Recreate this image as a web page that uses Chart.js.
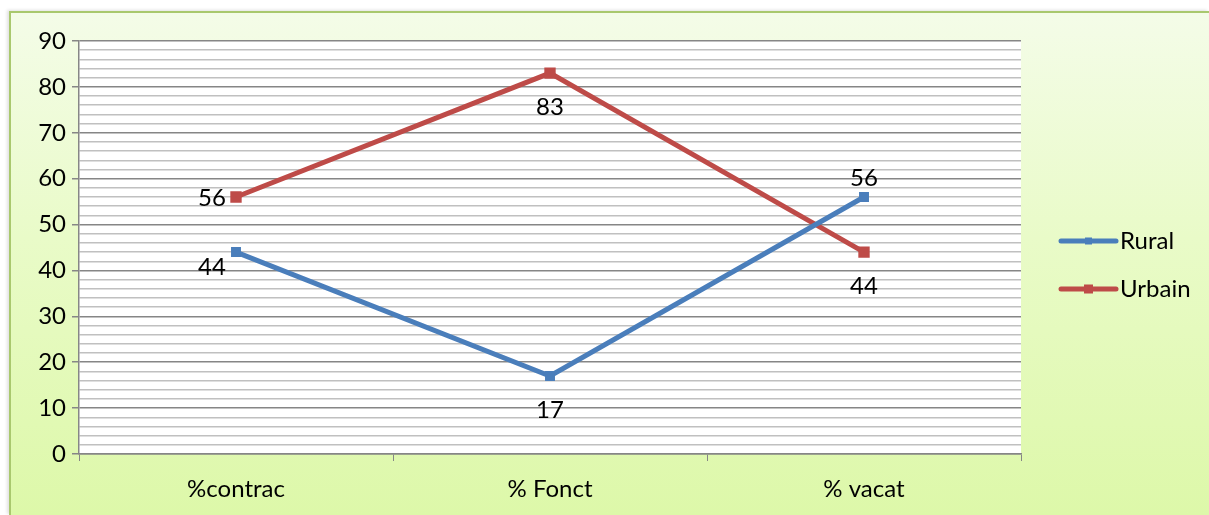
<!DOCTYPE html>
<html>
<head>
<meta charset="utf-8">
<script src="https://cdn.jsdelivr.net/npm/chart.js@4.4.1/dist/chart.umd.min.js"></script>
<style>
  html, body { margin: 0; padding: 0; background: #ffffff; width: 1209px; height: 515px; overflow: hidden; }
  #frame {
    position: absolute; left: 9px; top: 11px; width: 1200px; height: 504px;
    box-sizing: border-box;
    border-left: 2px solid #a9c86e; border-top: 2px solid #a9c86e;
    background: linear-gradient(to bottom, #f4fce8 0%, #e9fbc8 45%, #ddf8a9 100%);
    box-shadow: -2px -1px 3px rgba(0,0,0,0.12);
  }
  #wrap { position: absolute; left: -1px; top: -1px; width: 1199px; height: 503px; }
</style>
</head>
<body>
<div id="frame"><div id="wrap"><canvas id="c" width="1199" height="503"></canvas></div></div>
<script>
// Categories and series values
const categories = ['%contrac', '% Fonct', '% vacat'];
const rural = [44, 17, 56];
const urbain = [56, 83, 44];
const seriesNames = ['Rural', 'Urbain'];

const FONT = "Lato, 'Open Sans', 'DejaVu Sans', sans-serif";
const FONT_SIZE = 24;
const BLUE = '#4a7ebb';
const RED = '#be4b48';

// Where each value label sits relative to its point, per series
const labelPlacement = [
  ['belowLeft', 'below', 'above'],
  ['left', 'below', 'below']
];

const plotBackground = {
  id: 'plotBackground',
  beforeDraw(chart) {
    const { ctx, chartArea: a } = chart;
    ctx.save();
    ctx.fillStyle = '#ffffff';
    ctx.fillRect(a.left, a.top, a.right - a.left, a.bottom - a.top);
    ctx.restore();
  }
};

const valueLabels = {
  id: 'valueLabels',
  afterDatasetsDraw(chart) {
    const { ctx } = chart;
    ctx.save();
    ctx.font = FONT_SIZE + 'px ' + FONT;
    ctx.fillStyle = '#000000';
    chart.data.datasets.forEach((ds, di) => {
      const meta = chart.getDatasetMeta(di);
      meta.data.forEach((pt, i) => {
        const where = labelPlacement[di][i];
        let x = pt.x, y = pt.y;
        ctx.textAlign = 'center';
        ctx.textBaseline = 'middle';
        if (where === 'below') { y += 34; }
        else if (where === 'above') { y -= 19; }
        else if (where === 'left') { x -= 24; y += 1; }
        else if (where === 'belowLeft') { x -= 24; y += 15; }
        ctx.fillText(String(ds.data[i]), x, y);
      });
    });
    ctx.restore();
  }
};

const sideLegend = {
  id: 'sideLegend',
  afterDraw(chart) {
    const { ctx, chartArea: a } = chart;
    const rows = [a.top + 200, a.top + 248];
    ctx.save();
    chart.data.datasets.forEach((ds, di) => {
      const y = rows[di];
      const x0 = a.right + 40, x1 = a.right + 95;
      ctx.strokeStyle = ds.borderColor;
      ctx.lineWidth = 5;
      ctx.lineCap = 'round';
      ctx.beginPath(); ctx.moveTo(x0, y); ctx.lineTo(x1, y); ctx.stroke();
      ctx.fillStyle = ds.borderColor;
      const s = di === 0 ? 7 : 9;
      ctx.fillRect((x0 + x1) / 2 - s / 2, y - s / 2, s, s);
      ctx.fillStyle = '#000000';
      ctx.font = FONT_SIZE + 'px ' + FONT;
      ctx.textAlign = 'left';
      ctx.textBaseline = 'middle';
      ctx.fillText(ds.label, x1 + 4, y);
    });
    ctx.restore();
  }
};

new Chart(document.getElementById('c'), {
  type: 'line',
  data: {
    labels: categories,
    datasets: [
      { label: seriesNames[0], data: rural, borderColor: BLUE, backgroundColor: BLUE,
        borderWidth: 5, pointStyle: 'rect', pointRadius: 3.5, pointHoverRadius: 3.5, tension: 0 },
      { label: seriesNames[1], data: urbain, borderColor: RED, backgroundColor: RED,
        borderWidth: 5, pointStyle: 'rect', pointRadius: 4.5, pointHoverRadius: 4.5, tension: 0 }
    ]
  },
  options: {
    responsive: false,
    animation: false,
    events: [],
    layout: { padding: { top: 29, right: 188, left: 0, bottom: 0 } },
    plugins: { legend: { display: false }, tooltip: { enabled: false } },
    scales: {
      x: {
        offset: true,
        grid: { display: true, drawOnChartArea: false, drawTicks: true, tickLength: 7,
                tickColor: '#868686', offset: true },
        border: { display: true, color: '#868686', width: 1.5 },
        ticks: { color: '#000000', font: { family: FONT, size: FONT_SIZE }, padding: 14 },
        afterFit(scale) { scale.height = 61; }
      },
      y: {
        min: 0, max: 90,
        ticks: {
          stepSize: 2, autoSkip: false,
          color: '#000000', font: { family: FONT, size: FONT_SIZE }, padding: 6,
          callback: v => (v % 10 === 0 ? v : '')
        },
        grid: {
          color: c => (c.tick && c.tick.value % 10 === 0 ? '#868686' : '#c0c0c0'),
          lineWidth: 1.5,
          tickLength: 7,
          tickColor: c => (c.tick && c.tick.value % 10 === 0 ? '#868686' : 'rgba(0,0,0,0)')
        },
        border: { display: true, color: '#868686', width: 1.5 },
        afterFit(scale) { scale.width = 69; }
      }
    }
  },
  plugins: [plotBackground, valueLabels, sideLegend]
});
</script>
</body>
</html>
